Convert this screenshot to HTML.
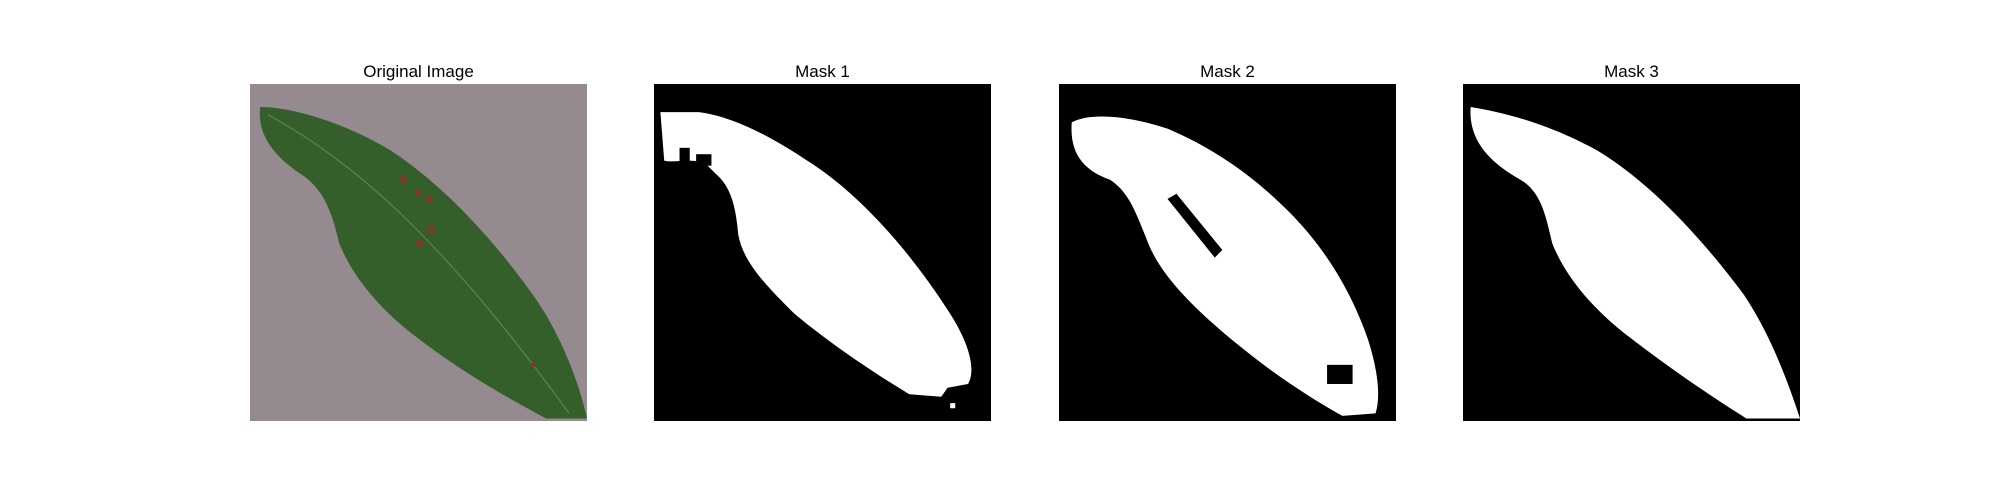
<!DOCTYPE html>
<html><head><meta charset="utf-8">
<style>
html,body{margin:0;padding:0;background:#fff;}
body{width:2000px;height:500px;position:relative;overflow:hidden;font-family:"Liberation Sans","DejaVu Sans",sans-serif;}
.title{position:absolute;top:62px;width:337px;text-align:center;font-size:17px;color:#000;}
svg.p{position:absolute;top:84px;width:337px;height:337px;}
</style></head>
<body>
<div class="title" style="left:250px">Original Image</div>
<div class="title" style="left:654px">Mask 1</div>
<div class="title" style="left:1059px">Mask 2</div>
<div class="title" style="left:1463px">Mask 3</div>

<svg class="p" style="left:250px" viewBox="0 0 264 264" preserveAspectRatio="none">
<rect width="264" height="264" fill="#958a90"/>
<path d="M8,18 C30,18 70,28 110,52 C150,78 190,120 225,170 C245,200 258,235 264,262 L232,262 C200,245 165,225 130,198 C100,175 80,150 70,125 C65,105 60,85 42,72 C20,58 5,40 8,18 Z" fill="#355f2a"/>
<path d="M14,24 C80,60 150,120 250,258" stroke="#5f7f4c" stroke-width="1" fill="none"/>
<circle cx="120" cy="75" r="3" fill="#7a3a2a"/><circle cx="132" cy="85" r="3" fill="#7a3a2a"/><circle cx="140" cy="90" r="3" fill="#7a3a2a"/><circle cx="142" cy="114" r="3" fill="#7a3a2a"/><circle cx="133" cy="125" r="3" fill="#7a3a2a"/><circle cx="222" cy="220" r="2" fill="#7a3a2a"/>
</svg>

<svg class="p" style="left:654px" viewBox="0 0 264 264" preserveAspectRatio="none">
<rect width="264" height="264" fill="#000"/>
<path d="M5,22 L35,22 C60,25 90,40 120,60 C160,85 200,130 232,180 C248,205 252,225 246,235 L230,238 L225,245 L200,243 C175,228 140,205 110,180 C88,158 70,140 66,118 C64,95 60,80 48,70 L40,62 C30,58 15,62 8,60 Z" fill="#fff"/>
<rect x="20" y="50" width="8" height="14" fill="#000"/><rect x="33" y="55" width="12" height="9" fill="#000"/>
<rect x="232" y="250" width="4" height="4" fill="#fff"/>
</svg>

<svg class="p" style="left:1059px" viewBox="0 0 264 264" preserveAspectRatio="none">
<rect width="264" height="264" fill="#000"/>
<path d="M10,30 C25,22 55,25 85,35 C120,50 150,70 180,100 C210,130 230,165 242,200 C250,225 252,245 248,258 L222,260 C195,245 165,225 135,200 C105,175 80,150 70,125 C60,100 55,85 40,75 C20,68 8,55 10,30 Z" fill="#fff"/>
<path d="M85,90 L92,86 L128,130 L122,136 Z" fill="#000"/>
<rect x="210" y="220" width="20" height="15" fill="#000"/>
</svg>

<svg class="p" style="left:1463px" viewBox="0 0 264 264" preserveAspectRatio="none">
<rect width="264" height="264" fill="#000"/>
<path d="M6,18 C30,22 65,30 105,52 C145,76 185,118 220,165 C242,198 255,235 264,262 L222,262 C195,245 165,225 130,198 C100,175 80,150 70,125 C65,105 62,85 45,75 C22,62 4,45 6,18 Z" fill="#fff"/>
</svg>
</body></html>
